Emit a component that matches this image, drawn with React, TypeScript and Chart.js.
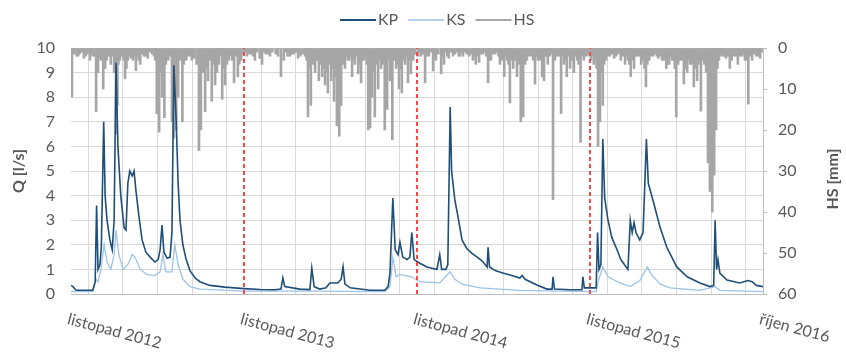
import React, { useEffect, useRef } from 'react';
import { Chart, registerables } from 'chart.js';

Chart.register(...registerables);

// x values are days counted from 1 Nov 2012
const X_MAX = 1460;
const GRID_STEP = 73;
const X_TICK_DAYS = [0, 365, 730, 1095, 1460];
const X_TICK_LABELS = ['listopad 2012', 'listopad 2013', 'listopad 2014', 'listopad 2015', 'říjen 2016'];
const SEASON_BREAKS = [365, 730, 1095];
const Q_TICKS_MAX = 10;
const HS_TICKS_MAX = 60;
const SERIES_NAMES = ['KP', 'KS', 'HS'];

const KP: [number, number][] = [
  [0, 0.35], [4, 0.3], [11, 0.15], [46, 0.15], [51, 0.5], [54, 3.6], [57, 1.0], [61, 1.2], [64, 1.9],
  [69, 7.0], [72, 4.0], [76, 3.0], [82, 2.2], [87, 1.8], [91, 3.0], [95, 9.4], [99, 6.0], [105, 4.0],
  [112, 2.7], [116, 2.6], [120, 4.5], [124, 5.0], [129, 4.8], [133, 5.0], [137, 4.2], [143, 3.2],
  [150, 2.2], [158, 1.7], [167, 1.5], [177, 1.3], [184, 1.4], [188, 1.8], [192, 2.8], [196, 1.7],
  [203, 1.45], [209, 1.5], [213, 2.5], [217, 9.3], [222, 7.0], [226, 4.5], [230, 3.0], [236, 2.0],
  [243, 1.4], [251, 0.95], [262, 0.65], [272, 0.5], [293, 0.35], [325, 0.28], [365, 0.22], [399, 0.18],
  [430, 0.17], [443, 0.2], [447, 0.65], [451, 0.3], [483, 0.2], [504, 0.18], [508, 1.05], [513, 0.3],
  [525, 0.2], [538, 0.25], [546, 0.45], [563, 0.45], [570, 0.6], [574, 1.1], [578, 0.4], [589, 0.25],
  [631, 0.15], [662, 0.15], [669, 0.3], [673, 0.85], [679, 3.9], [684, 1.8], [690, 1.6], [694, 2.1],
  [700, 1.5], [709, 1.4], [715, 1.5], [719, 2.5], [724, 1.4], [736, 1.25], [751, 1.1], [762, 1.05],
  [772, 1.0], [778, 1.6], [782, 1.0], [791, 1.0], [795, 1.2], [800, 7.6], [803, 5.0], [810, 3.8],
  [816, 3.2], [825, 2.2], [835, 1.85], [846, 1.65], [857, 1.5], [867, 1.35], [878, 1.1], [880, 1.9],
  [883, 1.1], [895, 0.95], [911, 0.85], [930, 0.75], [947, 0.65], [952, 0.75], [958, 0.6], [983, 0.37],
  [1004, 0.2], [1015, 0.2], [1017, 0.7], [1020, 0.2], [1053, 0.17], [1078, 0.17], [1080, 0.7],
  [1083, 0.25], [1108, 0.25], [1111, 2.5], [1114, 1.0], [1118, 1.2], [1122, 6.3], [1126, 3.9],
  [1133, 3.0], [1141, 2.3], [1152, 1.8], [1160, 1.4], [1175, 1.0], [1180, 3.0], [1184, 2.5],
  [1188, 2.9], [1192, 2.5], [1200, 2.2], [1207, 2.5], [1214, 6.3], [1218, 4.5], [1228, 3.8],
  [1243, 2.7], [1257, 1.9], [1278, 1.1], [1300, 0.7], [1327, 0.45], [1348, 0.3], [1356, 0.35],
  [1359, 3.0], [1362, 1.0], [1365, 1.4], [1369, 0.85], [1384, 0.57], [1411, 0.45], [1428, 0.55],
  [1437, 0.5], [1446, 0.35], [1460, 0.3],
];

const KS: [number, number][] = [
  [0, 0.1], [46, 0.1], [53, 0.6], [57, 0.5], [63, 1.0], [70, 2.0], [76, 1.3], [84, 1.0], [91, 1.6],
  [95, 2.6], [101, 1.6], [110, 1.0], [120, 1.2], [129, 1.6], [135, 1.5], [146, 1.0], [160, 0.8],
  [177, 0.75], [188, 0.9], [194, 1.6], [200, 0.9], [213, 0.9], [219, 2.0], [226, 1.2], [236, 0.6],
  [251, 0.3], [272, 0.2], [365, 0.12], [508, 0.12], [662, 0.1], [673, 0.3], [679, 1.5], [686, 0.7],
  [694, 0.8], [719, 0.7], [736, 0.5], [778, 0.45], [800, 0.9], [810, 0.6], [825, 0.4], [863, 0.25],
  [947, 0.15], [1108, 0.1], [1112, 0.5], [1122, 1.1], [1133, 0.7], [1158, 0.45], [1180, 0.3],
  [1200, 0.55], [1216, 1.1], [1224, 0.8], [1243, 0.4], [1264, 0.25], [1327, 0.15], [1359, 0.3],
  [1369, 0.15], [1460, 0.1],
];

// larger daily rainfall totals
const HS: [number, number][] = [
  [2, 12], [6, 1.5], [15, 2], [21, 1], [27, 2.5], [34, 1.5], [40, 3], [46, 2], [53, 15.5], [57, 6],
  [63, 3], [68, 10], [72, 5], [78, 2], [84, 4], [91, 6], [95, 21], [98, 14], [103, 3], [108, 2],
  [114, 7.5], [120, 3], [127, 2.5], [137, 5.5], [146, 4], [154, 2], [162, 2.5], [171, 1.5], [181, 16],
  [186, 20.5], [192, 12], [197, 17], [205, 3], [213, 18], [217, 22], [222, 20], [226, 12], [235, 18],
  [243, 3], [251, 2], [260, 2.5], [270, 25], [274, 20], [283, 15.5], [289, 8], [297, 13], [304, 9],
  [312, 4], [319, 12.5], [325, 9], [333, 3], [344, 8.5], [352, 7], [359, 3],
  [371, 2], [380, 1.5], [388, 3], [403, 4], [411, 1.5], [420, 2], [432, 1.5], [443, 7], [449, 3],
  [462, 2], [470, 1.5], [479, 2.5], [489, 1.5], [500, 16.8], [506, 14], [515, 6], [523, 8], [530, 7],
  [536, 9], [542, 11], [549, 8], [555, 13], [561, 19], [566, 21.5], [570, 14], [578, 5], [584, 3],
  [593, 7], [599, 4], [606, 6.3], [612, 8.5], [618, 3], [627, 20], [631, 19.5], [635, 12], [641, 16.8],
  [648, 10], [654, 5], [662, 20], [667, 15], [673, 8], [678, 22.4], [686, 5], [692, 10], [698, 11],
  [705, 4], [711, 8.5], [717, 6.3], [722, 3],
  [732, 2], [738, 2], [747, 8.5], [755, 2], [764, 5.6], [770, 3], [781, 6.3], [787, 4], [797, 2.5],
  [810, 1.5], [821, 2], [827, 2], [835, 1.5], [848, 3], [854, 4], [861, 3.5], [869, 1.5], [880, 8.5],
  [886, 3], [895, 1.5], [905, 4], [914, 7], [920, 3], [926, 13.4], [933, 5], [941, 7], [949, 18],
  [954, 16.8], [962, 3], [971, 2], [979, 8.8], [985, 3], [994, 7], [998, 8], [1006, 4], [1017, 37],
  [1025, 2], [1034, 16], [1040, 4], [1046, 7], [1053, 5], [1061, 6], [1068, 3], [1075, 23], [1082, 3],
  [1089, 2], [1097, 3],
  [1103, 4], [1112, 24], [1116, 18], [1122, 14], [1129, 3], [1137, 2], [1146, 2.5], [1154, 1.5],
  [1160, 3], [1169, 4], [1175, 3], [1181, 7], [1188, 5], [1194, 2], [1203, 4], [1213, 9.5], [1220, 3],
  [1228, 2], [1239, 2.5], [1247, 3], [1256, 5], [1262, 4], [1268, 3], [1277, 16.8], [1285, 3],
  [1293, 8.8], [1300, 6], [1306, 4], [1314, 9.5], [1321, 8], [1329, 15.4], [1336, 4], [1344, 28],
  [1348, 35], [1353, 40], [1357, 31], [1361, 20], [1367, 3], [1376, 2], [1382, 2.5], [1390, 5],
  [1399, 2], [1407, 4], [1416, 2], [1422, 3], [1429, 13.7], [1437, 3], [1446, 2], [1454, 2.5],
];

// small daily rainfall totals between the larger events
const HS_SMALL: [number, number][] = [
  [9, 1], [12, 2], [18, 1.5], [24, 1], [31, 2], [37, 1], [43, 1.5], [49, 2], [60, 2.5], [66, 1.5],
  [75, 3], [81, 2], [87, 2], [100, 4], [105, 2], [111, 3], [117, 5], [124, 2], [131, 3], [134, 2],
  [141, 2], [143, 3], [150, 1.5], [158, 2], [166, 1], [175, 2], [178, 3], [189, 6], [200, 4], [209, 2],
  [220, 5], [230, 3], [238, 4], [247, 2], [255, 3], [265, 4], [278, 6], [286, 5], [293, 3], [300, 4],
  [308, 6], [316, 2], [322, 5], [329, 4], [337, 2], [340, 3], [348, 2], [355, 4], [362, 1.5],
  [367, 1], [375, 1.5], [384, 2], [392, 1], [398, 2.5], [407, 1], [416, 1.5], [425, 1], [437, 2],
  [453, 1], [457, 2], [466, 1.5], [474, 1], [484, 2], [494, 2], [497, 3], [503, 5], [510, 4], [519, 3],
  [527, 4], [533, 5], [539, 6], [545, 4], [552, 5], [558, 7], [563, 9], [574, 4], [581, 2], [587, 3],
  [590, 2], [596, 3], [603, 2], [609, 4], [615, 3], [621, 2], [624, 4], [638, 6], [645, 4], [651, 3],
  [658, 4], [664, 6], [670, 3], [675, 5], [682, 3], [689, 4], [695, 5], [701, 3], [708, 2], [714, 3],
  [720, 2], [726, 1.5],
  [735, 1], [742, 1.5], [751, 2], [759, 1], [767, 2], [775, 1.5], [784, 2], [791, 1], [794, 2],
  [802, 1], [806, 2], [815, 1], [818, 2], [824, 1], [831, 1], [840, 2], [844, 1.5], [851, 2], [858, 2],
  [865, 1.5], [872, 1], [876, 2], [883, 3], [890, 1.5], [899, 1], [902, 2], [909, 3], [917, 2],
  [923, 4], [930, 3], [937, 3], [945, 4], [958, 4], [966, 2], [975, 3], [982, 2], [989, 3], [1002, 2],
  [1010, 2], [1013, 1.5], [1021, 3], [1029, 2], [1037, 2], [1043, 3], [1050, 2], [1057, 3], [1064, 2],
  [1071, 4], [1078, 2], [1085, 2], [1092, 1.5], [1100, 2],
  [1106, 3], [1109, 5], [1119, 6], [1125, 4], [1133, 2], [1141, 1.5], [1150, 2], [1157, 1], [1164, 2],
  [1172, 2], [1178, 4], [1184, 3], [1191, 2], [1198, 2], [1207, 3], [1210, 5], [1216, 4], [1224, 2],
  [1232, 1.5], [1236, 2], [1243, 2], [1251, 3], [1259, 4], [1265, 2], [1271, 3], [1274, 5], [1281, 4],
  [1289, 3], [1296, 5], [1303, 3], [1310, 4], [1318, 5], [1325, 4], [1333, 3], [1340, 6], [1351, 20],
  [1355, 25], [1364, 5], [1370, 2], [1373, 1.5], [1379, 2], [1386, 2], [1394, 3], [1403, 2], [1411, 2],
  [1419, 1.5], [1426, 3], [1433, 2], [1441, 1.5], [1450, 2], [1457, 1],
];

const COLORS = {
  KP: '#1f4e79',
  KS: '#9dc3e6',
  HS: '#a6a6a6',
  red: '#f04a4a',
  grid: '#d9d9d9',
  axis: '#bfbfbf',
  text: '#595959',
};
const FONT = 'Lato, "Open Sans", sans-serif';

const decorPlugin = {
  id: 'decor',
  afterDraw(chart: any) {
    const { ctx, chartArea, scales } = chart;
    const xs = scales.x;
    ctx.save();
    ctx.fillStyle = COLORS.text;
    // x labels, rotated clockwise starting at the tick
    ctx.font = `16px ${FONT}`;
    ctx.textAlign = 'left';
    ctx.textBaseline = 'top';
    X_TICK_DAYS.forEach((d, i) => {
      const px = xs.getPixelForValue(d);
      ctx.save();
      ctx.translate(px - 1, chartArea.bottom + 17);
      ctx.rotate((15 * Math.PI) / 180);
      ctx.fillText(X_TICK_LABELS[i], 0, 0);
      ctx.restore();
    });
    // axis titles
    ctx.font = `bold 16px ${FONT}`;
    ctx.textAlign = 'center';
    ctx.textBaseline = 'middle';
    const cy = (chartArea.top + chartArea.bottom) / 2;
    ctx.save();
    ctx.translate(19, cy);
    ctx.rotate(-Math.PI / 2);
    ctx.fillText('Q [l/s]', 0, 0);
    ctx.restore();
    ctx.save();
    ctx.translate(833, cy + 8);
    ctx.rotate(-Math.PI / 2);
    ctx.fillText('HS [mm]', 0, 0);
    ctx.restore();
    // legend
    ctx.font = `16px ${FONT}`;
    ctx.textAlign = 'left';
    const widths = [2, 1.3, 2];
    const cols = [COLORS.KP, COLORS.KS, COLORS.HS];
    let x = 340;
    const y = 20;
    SERIES_NAMES.forEach((name, i) => {
      ctx.strokeStyle = cols[i];
      ctx.lineWidth = widths[i];
      ctx.beginPath();
      ctx.moveTo(x, y);
      ctx.lineTo(x + 36, y);
      ctx.stroke();
      x += 38;
      ctx.fillText(name, x, y);
      x += ctx.measureText(name).width + 10;
    });
    ctx.restore();
  },
};

export default function App() {
  const ref = useRef<HTMLCanvasElement | null>(null);
  useEffect(() => {
    document.body.style.margin = '0';
    if (!ref.current) return;
    const gridDays: number[] = [];
    for (let d = 0; d <= X_MAX; d += GRID_STEP) gridDays.push(d);

    const breakSets = SEASON_BREAKS.map((b) => ({
      type: 'line' as const,
      data: [{ x: b, y: 0 }, { x: b, y: Q_TICKS_MAX }],
      borderColor: COLORS.red,
      borderWidth: 2,
      borderDash: [4, 3],
      pointRadius: 0,
      yAxisID: 'y',
      order: 1,
    }));

    const hsData = [...HS, ...HS_SMALL].map(([x, y]) => ({ x, y }));

    const chart = new Chart(ref.current, {
      type: 'line',
      data: {
        datasets: [
          {
            type: 'bar',
            label: 'HS',
            data: hsData,
            backgroundColor: COLORS.HS,
            barThickness: 2,
            grouped: false,
            yAxisID: 'y2',
            order: 4,
          } as any,
          {
            label: 'KS',
            data: KS.map(([x, y]) => ({ x, y })),
            borderColor: COLORS.KS,
            borderWidth: 1.3,
            pointRadius: 0,
            tension: 0,
            yAxisID: 'y',
            order: 3,
          },
          {
            label: 'KP',
            data: KP.map(([x, y]) => ({ x, y })),
            borderColor: COLORS.KP,
            borderWidth: 1.6,
            pointRadius: 0,
            tension: 0,
            yAxisID: 'y',
            order: 2,
          },
          ...breakSets,
        ],
      },
      options: {
        animation: false,
        responsive: true,
        maintainAspectRatio: false,
        layout: { padding: { top: 48, bottom: 65, left: 0, right: 0 } },
        plugins: { legend: { display: false }, tooltip: { enabled: false } },
        scales: {
          x: {
            type: 'linear',
            min: 0,
            max: X_MAX,
            offset: false,
            afterBuildTicks: (s: any) => {
              s.ticks = gridDays.map((v) => ({ value: v }));
            },
            afterFit: (s: any) => {
              s.height = 0;
            },
            ticks: { display: false },
            grid: { color: COLORS.grid, drawTicks: false },
            border: { display: true, color: COLORS.axis },
          },
          y: {
            position: 'left',
            min: 0,
            max: Q_TICKS_MAX,
            ticks: { stepSize: 1, padding: 16, color: COLORS.text, font: { family: FONT, size: 16 } },
            grid: { color: COLORS.grid, drawTicks: false },
            border: { display: false },
            afterFit: (s: any) => {
              s.width = 71;
            },
          },
          y2: {
            position: 'right',
            reverse: true,
            min: 0,
            max: HS_TICKS_MAX,
            ticks: { stepSize: 10, padding: 11, color: COLORS.text, font: { family: FONT, size: 16 } },
            grid: { drawOnChartArea: false, drawTicks: true, tickLength: 4, color: COLORS.axis },
            border: { display: true, color: COLORS.axis },
            afterFit: (s: any) => {
              s.width = 83;
            },
          },
        },
      },
      plugins: [decorPlugin],
    });
    return () => chart.destroy();
  }, []);

  return (
    <div style={{ width: 846, height: 359, position: 'relative' }}>
      <canvas ref={ref} />
    </div>
  );
}
